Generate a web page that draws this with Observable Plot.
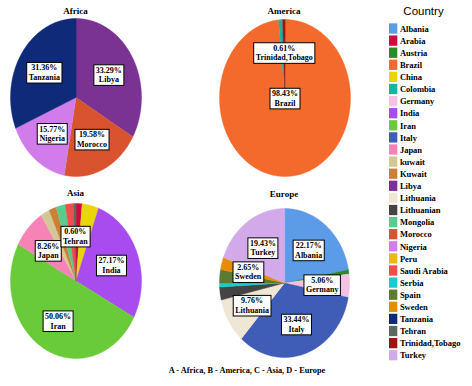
<!DOCTYPE html>
<html>
<head>
<meta charset="utf-8">
<script src="https://cdn.jsdelivr.net/npm/d3@7"></script>
<script src="https://cdn.jsdelivr.net/npm/@observablehq/plot@0.6"></script>
<style>
  html, body { margin: 0; padding: 0; background: #ffffff; }
  #chart { position: relative; width: 472px; height: 386px; background: #ffffff; overflow: hidden; }
  #chart svg { position: absolute; max-width: none; background: transparent; }
  .ttl { position: absolute; font-family: "Liberation Serif", "Times New Roman", "DejaVu Serif", serif; font-weight: bold; font-size: 9px; line-height: 10px; text-align: center; color: #000; white-space: nowrap; }
</style>
</head>
<body>
<div id="chart"></div>
<script>
// ---- data ----
const continents = ["Africa", "America", "Asia", "Europe"];

const africaCountries = ["Libya", "Morocco", "Nigeria", "Tanzania"];
const africaValues = [33.29, 19.58, 15.77, 31.36];
const africaLabelled = ["Libya", "Morocco", "Nigeria", "Tanzania"];

const americaCountries = ["Brazil", "Colombia", "Trinidad,Tobago"];
const americaValues = [98.43, 0.96, 0.61];
const americaLabelled = ["Brazil", "Trinidad,Tobago"];

const asiaCountries = ["Arabia", "China", "India", "Iran", "Japan", "kuwait", "Kuwait", "Mongolia", "Saudi Arabia", "Tehran"];
const asiaValues = [1.5, 4.1, 27.17, 50.06, 8.26, 2.2, 1.8, 2.3, 2.0, 0.60];
const asiaLabelled = ["India", "Iran", "Japan", "Tehran"];

const europeCountries = ["Albania", "Austria", "Germany", "Italy", "Lithuania", "Lithuanian", "Serbia", "Spain", "Sweden", "Turkey"];
const europeValues = [22.17, 0.9, 5.06, 33.44, 9.76, 2.8, 0.9, 2.9, 2.65, 19.43];
const europeLabelled = ["Albania", "Germany", "Italy", "Lithuania", "Sweden", "Turkey"];

const legendTitle = "Country";
const legendCountries = ["Albania", "Arabia", "Austria", "Brazil", "China", "Colombia", "Germany", "India", "Iran", "Italy", "Japan", "kuwait", "Kuwait", "Libya", "Lithuania", "Lithuanian", "Mongolia", "Morocco", "Nigeria", "Peru", "Saudi Arabia", "Serbia", "Spain", "Sweden", "Tanzania", "Tehran", "Trinidad,Tobago", "Turkey"];
const legendColors = ["#5b9be8", "#d4083c", "#2a8a28", "#f46a2c", "#e6d60a", "#16b5a0", "#f4c0e4", "#a84cf0", "#6acb3a", "#3f5cb6", "#f782b6", "#d2c896", "#cd7f36", "#7b3393", "#efe7d3", "#444444", "#58cc8c", "#d9532f", "#d27ceb", "#e8b818", "#f24c4c", "#18cccc", "#5c7a34", "#e88c08", "#0f2a78", "#5d6960", "#9c1414", "#d2aaea"];

const caption = "A - Africa, B - America, C - Asia, D - Europe";

// ---- layout (not data) ----
const serif = "Liberation Serif, Times New Roman, DejaVu Serif, serif";
const layout = {
  Africa:  {cx: 75.5, cy: 97,    rx: 65.5, ry: 79,   titleY: 14},
  America: {cx: 284,  cy: 97.5,  rx: 65.5, ry: 78.5, titleY: 14},
  Asia:    {cx: 75.5, cy: 280,   rx: 65.5, ry: 77.5, titleY: 196},
  Europe:  {cx: 284,  cy: 282.5, rx: 65,   ry: 74.5, titleY: 197}
};
const pieData = {
  Africa: [africaCountries, africaValues, africaLabelled],
  America: [americaCountries, americaValues, americaLabelled],
  Asia: [asiaCountries, asiaValues, asiaLabelled],
  Europe: [europeCountries, europeValues, europeLabelled]
};

const chart = document.getElementById("chart");
const colorScale = {domain: legendCountries, range: legendColors};

function addBoxes(svg) {
  svg.querySelectorAll('g[aria-label="text"] text').forEach(t => {
    const bb = t.getBBox();
    const r = document.createElementNS("http://www.w3.org/2000/svg", "rect");
    r.setAttribute("x", bb.x - 2);
    r.setAttribute("y", bb.y - 1);
    r.setAttribute("width", bb.width + 4);
    r.setAttribute("height", bb.height + 2);
    r.setAttribute("fill", "white");
    r.setAttribute("stroke", "black");
    r.setAttribute("stroke-width", "1");
    const tr = t.getAttribute("transform");
    if (tr) r.setAttribute("transform", tr);
    t.parentNode.insertBefore(r, t);
  });
}

function drawPie(name) {
  const [countries, values, labelled] = pieData[name];
  const L = layout[name];
  const arcs = d3.pie().sort(null).value(d => d.value)(
    countries.map((c, i) => ({country: c, value: values[i]}))
  );
  const pts = [];
  arcs.forEach((a, k) => {
    pts.push({key: k, country: a.data.country, x: 0, y: 0});
    const n = Math.max(2, Math.ceil((a.endAngle - a.startAngle) / (Math.PI / 180)));
    for (let j = 0; j <= n; j++) {
      const t = a.startAngle + (a.endAngle - a.startAngle) * j / n;
      pts.push({key: k, country: a.data.country, x: Math.sin(t), y: Math.cos(t)});
    }
  });
  const labels = arcs.filter(a => labelled.includes(a.data.country)).map(a => {
    const m = (a.startAngle + a.endAngle) / 2;
    const r = a.data.value > 90 ? 0 : 0.58;
    return {x: r * Math.sin(m), y: r * Math.cos(m), text: `${a.data.value.toFixed(2)}%\n${a.data.country}`};
  });
  const pad = 10;
  const svg = Plot.plot({
    width: 2 * L.rx + 2 * pad,
    height: 2 * L.ry + 2 * pad,
    marginLeft: pad, marginRight: pad, marginTop: pad, marginBottom: pad,
    style: {background: "transparent", overflow: "visible"},
    x: {domain: [-1, 1], axis: null},
    y: {domain: [-1, 1], axis: null},
    color: colorScale,
    marks: [
      Plot.line(pts, {x: "x", y: "y", z: "key", fill: "country", stroke: "country", strokeWidth: 0.4, curve: "linear-closed"}),
      Plot.text(labels, {x: "x", y: "y", text: "text", fontSize: 8, fontWeight: "bold", fontFamily: serif, lineHeight: 1.2, fill: "black"})
    ]
  });
  svg.style.left = (L.cx - L.rx - pad) + "px";
  svg.style.top = (L.cy - L.ry - pad) + "px";
  chart.appendChild(svg);
  addBoxes(svg);

  const title = document.createElement("div");
  title.className = "ttl";
  title.textContent = name;
  title.style.left = (L.cx - 50) + "px";
  title.style.width = "100px";
  title.style.top = (L.titleY - 8) + "px";
  chart.appendChild(title);
}

continents.forEach(drawPie);

// legend
const legend = Plot.plot({
  width: 88, height: 386,
  marginLeft: 5, marginRight: 0, marginTop: 22.45, marginBottom: 24.75,
  style: {background: "transparent", overflow: "visible"},
  x: {domain: [0, 10], axis: null},
  y: {domain: legendCountries, axis: null, paddingInner: 0.15, paddingOuter: 0.075, round: false},
  color: colorScale,
  marks: [
    Plot.barX(legendCountries, {y: d => d, x1: 0, x2: 1, fill: d => d}),
    Plot.text(legendCountries, {y: d => d, x: 1.25, text: d => d, textAnchor: "start", fontSize: 8.5, fontWeight: "bold", fontFamily: serif, fill: "black"})
  ]
});
legend.style.left = "384px";
legend.style.top = "0px";
chart.appendChild(legend);

const lt = document.createElement("div");
lt.textContent = legendTitle;
lt.style.cssText = "position:absolute;left:383.5px;width:80px;top:5px;text-align:center;font-family:'Liberation Sans',Arial,sans-serif;font-size:11.5px;line-height:13px;color:#000;";
chart.appendChild(lt);

const cap = document.createElement("div");
cap.className = "ttl";
cap.textContent = caption;
cap.style.left = "97px";
cap.style.width = "300px";
cap.style.top = "366px";
cap.style.fontSize = "8.3px";
chart.appendChild(cap);
</script>
</body>
</html>
